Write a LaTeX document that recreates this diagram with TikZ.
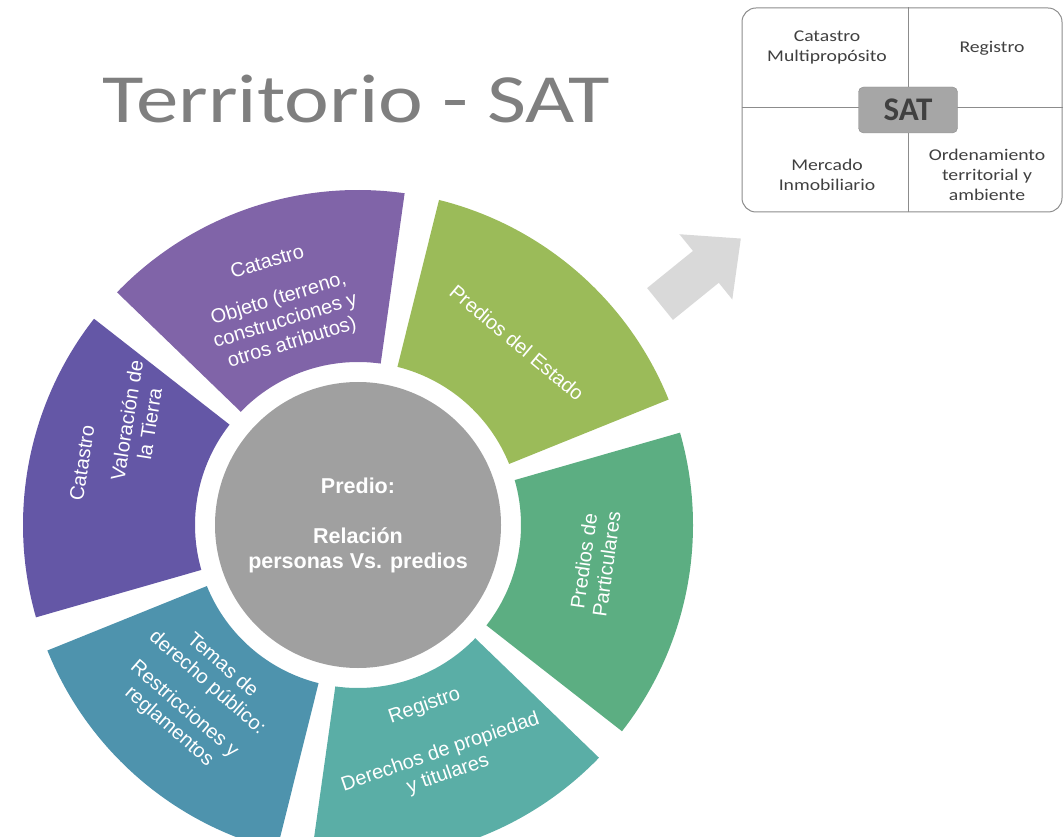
\documentclass[tikz,border=0pt]{standalone}
\usepackage{fontspec}
\setmainfont{Liberation Sans}
\newfontfamily\carlito{Carlito}
\definecolor{estadogreen}{HTML}{9BBB59}
\definecolor{particgreen}{HTML}{5CAE82}
\definecolor{registroteal}{HTML}{5AAEA6}
\definecolor{temasblue}{HTML}{4E93AD}
\definecolor{valorpurple}{HTML}{6457A6}
\definecolor{objetopurple}{HTML}{8064A8}
\definecolor{centergray}{HTML}{A0A0A0}
\definecolor{arrowgray}{HTML}{D9D9D9}
\definecolor{titlegray}{HTML}{7F7F7F}
\definecolor{boxline}{HTML}{8C8C8C}
\definecolor{boxtext}{HTML}{404040}
\definecolor{satfill}{HTML}{A6A6A6}
% one piece of the ring: colour, start angle, end angle
\newcommand\ringpiece[3]{\fill[#1] (#2:163pt) -- (#2:335pt) arc[start angle=#2, end angle=#3, radius=335pt] -- (#3:163pt) arc[start angle=#3, end angle=#2, radius=163pt] -- cycle;}
\begin{document}
\begin{tikzpicture}[x=1pt,y=1pt,
   seg/.style={text=white, align=center, font=\fontsize{20}{23}\selectfont},
   quad/.style={text=boxtext, align=center, xscale=1.2, font=\carlito\fontsize{16.4}{20}\selectfont}]
   \useasboundingbox (0,0) rectangle (1064,836);
   % title
   \node[anchor=base, xscale=1.23, text=titlegray, font=\carlito\fontsize{69}{80}\selectfont] (title) at (356,713) {Territorio - SAT};
   % ring
   \begin{scope}[shift={(358,311)}]
   \ringpiece{estadogreen}{22}{76}
   \ringpiece{objetopurple}{82}{136}
   \ringpiece{valorpurple}{142}{196}
   \ringpiece{temasblue}{202}{256}
   \ringpiece{registroteal}{262}{316}
   \ringpiece{particgreen}{322}{376}
   \node[seg, rotate=-40] (estado) at (48.9:242pt) {Predios del Estado};
   \node[seg, rotate=17] (objeto) at (109.4:235pt) {Catastro\\[15pt]Objeto (terreno,\\construcciones y\\otros atributos)};
   \node[seg, rotate=81] (valorhead) at (-276,62) {Catastro};
   \node[seg, rotate=81] (valor) at (-220,103) {Valoración de\\la Tierra};
   \node[seg, rotate=-41] (temas) at (226.5:236pt) {Temas de\\derecho público:\\[12pt]Restricciones y\\reglamentos};
   \node[seg, rotate=19] (registro) at (290:229pt) {Registro\\[26pt]Derechos de propiedad\\y titulares};
   \node[seg, rotate=82] (partic) at (351:240pt) {Predios de\\Particulares};
   \end{scope}
   % centre
   \node[circle, fill=centergray, minimum size=286pt, text=white, align=center, font=\bfseries\fontsize{21.5}{25}\selectfont] (predio) at (358,311) {Predio:\\[25pt]Relación\\personas Vs. predios};
   % arrow
   \begin{scope}[shift={(660,532)}, rotate=39]
   \fill[arrowgray] (0,-20.5) -- (59,-20.5) -- (59,-42) -- (104,0) -- (59,42) -- (59,20.5) -- (0,20.5) -- cycle;
   \end{scope}
   % SAT box
   \node[draw=boxline, line width=1pt, rounded corners=14pt, minimum width=320pt, minimum height=204pt] (satbox) at (902,726) {};
   \coordinate (split) at (908,728);
   \draw[boxline, line width=1pt] (satbox.north -| split) -- (satbox.south -| split);
   \draw[boxline, line width=1pt] (satbox.west |- split) -- (satbox.east |- split);
   \node[fill=satfill, draw=satfill!85!black, rounded corners=5pt, minimum width=99pt, minimum height=46pt, text=boxtext, font=\carlito\bfseries\fontsize{33}{36}\selectfont] (sat) at (908,726) {SAT};
   \node[quad] (multi) at (827,788) {Catastro\\Multipropósito};
   \node[quad] (regbox) at (992,788) {Registro};
   \node[quad] (mercado) at (827,661) {Mercado\\Inmobiliario};
   \node[quad] (orden) at (987,661) {Ordenamiento\\territorial y\\ambiente};
\end{tikzpicture}
\end{document}
